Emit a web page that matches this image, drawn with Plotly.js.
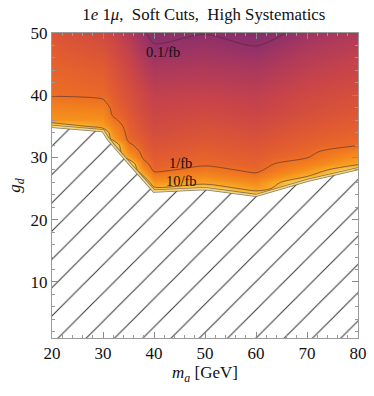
<!DOCTYPE html>
<html>
<head>
<meta charset="utf-8">
<script src="https://cdn.plot.ly/plotly-3.0.1.min.js"></script>
<style>
  html, body { margin: 0; padding: 0; background: #fff; }
  #plot { width: 374px; height: 396px; }
</style>
</head>
<body>
<div id="plot"></div>
<script>
// grid of the luminosity map, log10(L / fb^-1)
var ma = [20, 30, 32, 35, 38, 40, 50, 60, 70, 80];
var gd = [22, 23, 24, 25, 26, 27, 28, 29, 30, 31, 32, 33, 34, 35, 36, 37, 38, 39, 40, 42, 44, 46, 48, 50];

// one column per m_a value, bottom to top
var lum20 = [1.6, 1.6, 1.6, 1.6, 1.6, 1.6, 1.6, 1.6, 1.6, 1.6, 1.6, 1.6, 1.6, 1.55, 0.6, 0.48, 0.33, 0.15, -0.03, -0.08, -0.14, -0.2, -0.26, -0.31];
var lum30 = [1.6, 1.6, 1.6, 1.6, 1.6, 1.6, 1.6, 1.6, 1.6, 1.6, 1.6, 1.6, 1.6, 0.75, 0.58, 0.42, 0.26, 0.05, -0.08, -0.15, -0.22, -0.3, -0.38, -0.46];
var lum32 = [1.6, 1.6, 1.6, 1.6, 1.6, 1.6, 1.6, 1.6, 1.6, 1.6, 1.6, 0.8, 0.55, 0.35, 0.1, -0.08, -0.12, -0.17, -0.21, -0.27, -0.33, -0.39, -0.46, -0.54];
var lum35 = [1.6, 1.6, 1.6, 1.6, 1.6, 1.6, 1.6, 1.6, 0.75, 0.4, 0.1, -0.1, -0.15, -0.2, -0.24, -0.28, -0.31, -0.34, -0.37, -0.42, -0.48, -0.55, -0.63, -0.72];
var lum38 = [1.6, 1.6, 1.6, 1.6, 1.6, 1.0, 0.55, 0.15, -0.08, -0.17, -0.23, -0.28, -0.32, -0.36, -0.39, -0.42, -0.45, -0.48, -0.5, -0.58, -0.67, -0.77, -0.87, -0.97];
var lum40 = [1.6, 1.6, 1.6, 1.15, 0.6, 0.25, -0.1, -0.18, -0.24, -0.29, -0.33, -0.37, -0.41, -0.44, -0.47, -0.5, -0.53, -0.56, -0.59, -0.68, -0.77, -0.88, -0.985, -1.08];
var lum50 = [1.6, 1.6, 1.6, 1.5, 0.8, 0.45, 0.15, -0.08, -0.15, -0.2, -0.25, -0.29, -0.33, -0.37, -0.41, -0.45, -0.49, -0.53, -0.57, -0.65, -0.74, -0.83, -0.92, -1.01];
var lum60 = [1.6, 1.6, 1.45, 0.75, 0.45, 0.12, -0.1, -0.17, -0.22, -0.27, -0.31, -0.35, -0.39, -0.43, -0.47, -0.51, -0.55, -0.58, -0.62, -0.7, -0.79, -0.89, -1.005, -1.15];
var lum70 = [1.6, 1.6, 1.6, 1.6, 1.6, 0.98, 0.6, 0.3, -0.02, -0.1, -0.16, -0.21, -0.26, -0.3, -0.34, -0.38, -0.41, -0.44, -0.47, -0.54, -0.62, -0.7, -0.79, -0.89];
var lum80 = [1.6, 1.6, 1.6, 1.6, 1.6, 1.6, 1.6, 0.9, 0.6, 0.3, -0.03, -0.1, -0.15, -0.2, -0.24, -0.28, -0.32, -0.35, -0.38, -0.45, -0.52, -0.59, -0.67, -0.75];

// edge of the excluded (hatched) region
var edge_ma = [20, 30, 31, 32, 35, 40, 50, 60, 70, 80];
var edge_gd = [35.0, 34.3, 33.0, 32.0, 29.2, 24.6, 25.0, 23.9, 26.3, 28.2];

// contour labels
var lab_text = ['0.1/fb', '1/fb', '10/fb'];
var lab_ma = [41.8, 45.2, 45.3];
var lab_gd = [47.0, 29.1, 26.2];

var z = [lum20, lum30, lum32, lum35, lum38, lum40, lum50, lum60, lum70, lum80];

var sunset = [
  [0, '#6a2868'],
  [0.1667, '#90306a'],
  [0.25, '#b03a5a'],
  [0.3333, '#cc4646'],
  [0.4167, '#e05a32'],
  [0.5, '#ee7022'],
  [0.6667, '#f58c1c'],
  [0.8333, '#f9b02a'],
  [1, '#fde08a']
];

var map = {
  type: 'heatmap',
  x: ma, y: gd, z: z, transpose: true,
  zsmooth: 'best',
  zmin: -1.5, zmax: 1.5,
  colorscale: sunset,
  showscale: false,
  hoverinfo: 'skip'
};

var lines = {
  type: 'contour',
  x: ma, y: gd, z: z, transpose: true,
  contours: {coloring: 'none', start: -1, end: 1, size: 1},
  line: {color: 'rgba(70,45,50,0.75)', width: 0.8, smoothing: 0.8},
  showscale: false,
  hoverinfo: 'skip'
};

var hatch = {
  type: 'scatter', mode: 'lines',
  x: edge_ma, y: edge_gd,
  fill: 'tozeroy',
  fillpattern: {shape: '/', bgcolor: '#ffffff', fgcolor: '#333333', size: 20, solidity: 0.05},
  line: {color: 'rgba(120,110,90,0.9)', width: 3.2},
  hoverinfo: 'skip'
};

var edge = {
  type: 'scatter', mode: 'lines',
  x: edge_ma, y: edge_gd,
  line: {color: '#f3d47c', width: 1.6},
  hoverinfo: 'skip'
};

var serif = 'Liberation Serif, Times New Roman, serif';

var annotations = lab_text.map(function (t, i) {
  return {x: lab_ma[i], y: lab_gd[i], text: t, showarrow: false,
          font: {family: serif, size: 14.5, color: '#111'}};
});

var axis = {
  showline: true, linecolor: '#9a9a9a', linewidth: 1, mirror: 'ticks',
  ticks: 'inside', ticklen: 6, tickcolor: '#8a8a8a',
  showgrid: false, zeroline: false,
  tickfont: {family: serif, size: 17, color: '#111'},
  minor: {dtick: 2, ticks: 'inside', ticklen: 3, tickcolor: '#9a9a9a'}
};

var layout = {
  width: 374, height: 396,
  margin: {l: 52, r: 16, t: 33, b: 58},
  paper_bgcolor: '#fff', plot_bgcolor: '#fff',
  showlegend: false,
  title: {text: '1<i>e</i> 1<i>μ</i>,  Soft Cuts,  High Systematics',
          font: {family: serif, size: 16.8, color: '#111'}, x: 0.545, xanchor: 'center', y: 0.98},
  xaxis: Object.assign({}, axis, {range: [20, 80], dtick: 10, tick0: 0,
    title: {text: '<i>m</i><sub><i>a</i></sub> [GeV]', font: {family: serif, size: 17, color: '#111'}, standoff: 0}}),
  yaxis: Object.assign({}, axis, {range: [1, 50], dtick: 10, tick0: 0,
    title: {text: '<i>g</i><sub><i>d</i></sub>', font: {family: serif, size: 17, color: '#111'}, standoff: 5}}),
  annotations: annotations
};

Plotly.newPlot('plot', [map, lines, hatch, edge], layout, {displayModeBar: false, staticPlot: true});
</script>
</body>
</html>
